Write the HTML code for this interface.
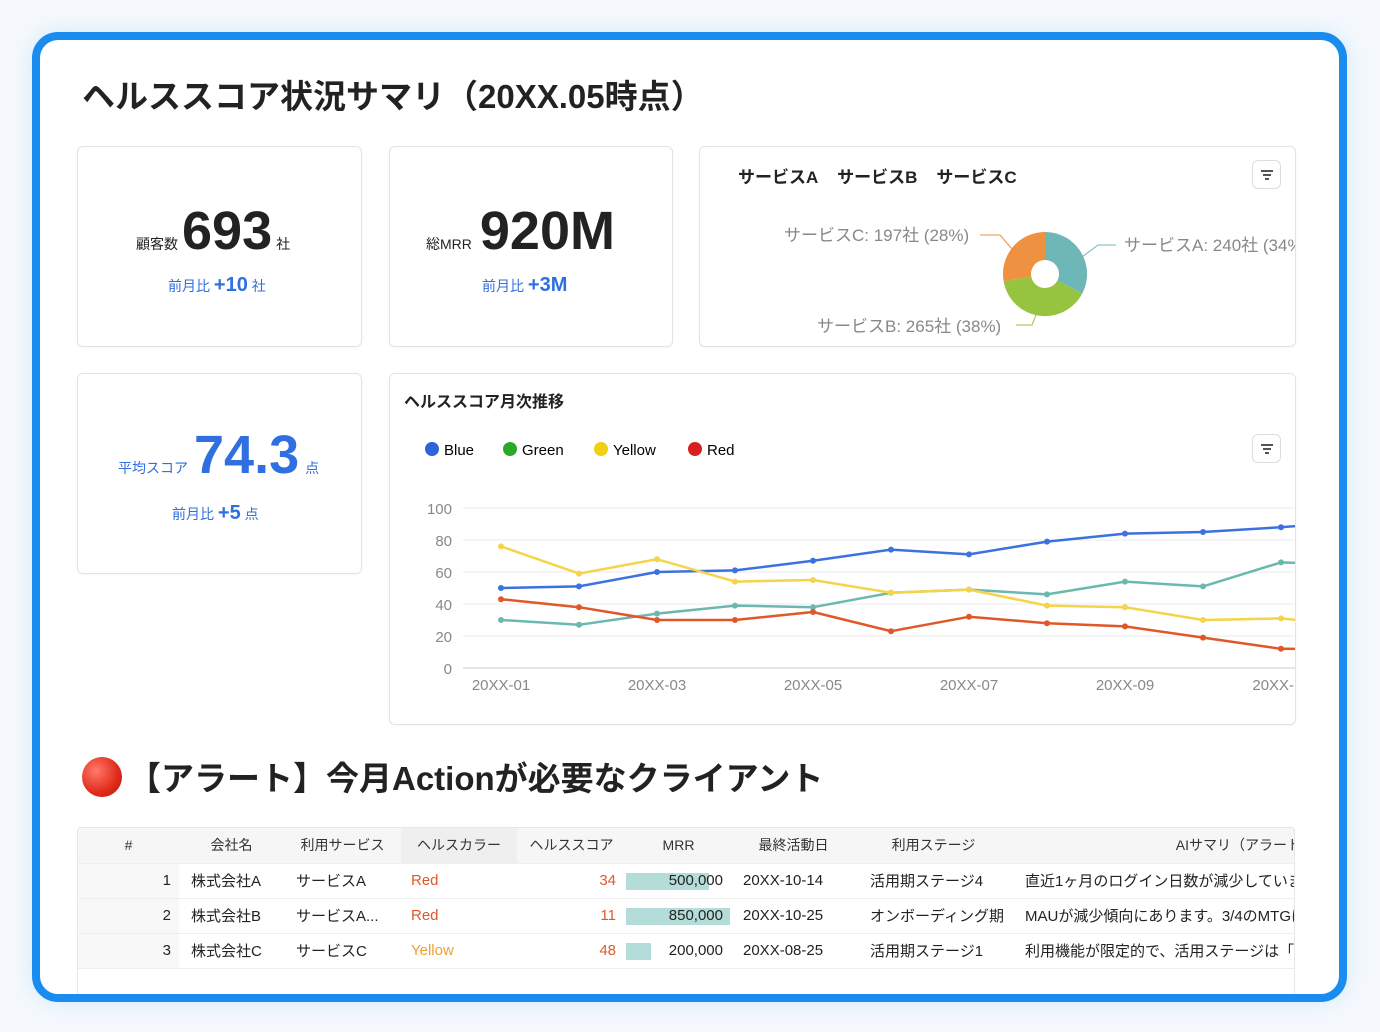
<!DOCTYPE html>
<html><head><meta charset="utf-8"><style>
*{box-sizing:border-box;margin:0;padding:0}
body{width:1380px;height:1032px;background:#f5f9fd;font-family:"Liberation Sans","Noto Sans CJK JP",sans-serif;position:relative;overflow:hidden;color:#222}
.frame{position:absolute;left:32px;top:32px;width:1315px;height:970px;border:8px solid #1a8cf0;border-radius:26px;background:#fff;overflow:hidden;box-shadow:0 0 24px rgba(26,140,240,.15)}
.card{position:absolute;border:1px solid #e3e3e3;border-radius:6px;background:#fff;box-shadow:0 1px 2px rgba(0,0,0,.04)}
.abs{position:absolute}
h1{position:absolute;left:82px;top:70px;font-size:33px;font-weight:bold;color:#222;white-space:nowrap}
.blue{color:#2f6fe0}
.fbtn{position:absolute;width:29px;height:29px;border:1px solid #ddd;border-radius:6px;background:#fff}
.fbtn i{position:absolute;height:1.5px;background:#555;left:50%;transform:translateX(-50%)}
table{border-collapse:collapse;font-size:15px}
td,th{height:35px;white-space:nowrap;border-bottom:1px solid #eee;overflow:hidden}
th{font-weight:normal;background:#f6f6f6;color:#333}
</style></head><body>
<div class="frame"></div>
<h1>ヘルススコア状況サマリ（20XX.05時点）</h1>

<div class="card" style="left:77px;top:146px;width:285px;height:201px"></div>
<div class="abs" style="left:136px;top:200px;font-size:14px;width:200px;white-space:nowrap"><span>顧客数</span><span style="font-size:54px;font-weight:bold;margin:0 4px">693</span><span>社</span></div>
<div class="abs blue" style="left:168px;top:274px;font-size:14px;white-space:nowrap">前月比 <b style="font-size:20px">+10</b> 社</div>

<div class="card" style="left:389px;top:146px;width:284px;height:201px"></div>
<div class="abs" style="left:426px;top:200px;font-size:14px;white-space:nowrap"><span>総MRR</span><span style="font-size:54px;font-weight:bold;margin-left:8px">920M</span></div>
<div class="abs blue" style="left:482px;top:274px;font-size:14px;white-space:nowrap">前月比 <b style="font-size:20px">+3M</b></div>

<div class="card" style="left:699px;top:146px;width:597px;height:201px;overflow:hidden">
<div class="abs" style="left:38px;top:16px;font-size:17px;font-weight:bold;white-space:nowrap">サービスA&nbsp;&nbsp;&nbsp;&nbsp;サービスB&nbsp;&nbsp;&nbsp;&nbsp;サービスC</div>
<div class="fbtn" style="left:552px;top:13px"><i style="top:9px;width:12px"></i><i style="top:13px;width:8px"></i><i style="top:17px;width:4px"></i></div>
<svg class="abs" style="left:0;top:0" width="597" height="201">
<g transform="translate(345,127)">
<path d="M0,-42 A42,42 0 0 1 37.2,19.6 L12.4,6.5 A14,14 0 0 0 0,-14Z" fill="#6db7b7"/>
<path d="M37.2,19.6 A42,42 0 0 1 -41.4,7.3 L-13.8,2.4 A14,14 0 0 0 12.4,6.5Z" fill="#96c43f"/>
<path d="M-41.4,7.3 A42,42 0 0 1 0,-42 L0,-14 A14,14 0 0 0 -13.8,2.4Z" fill="#ee9140"/>
</g>
<polyline points="280,88 300,88 312,102" fill="none" stroke="#ee9140"/>
<polyline points="378,113 398,98 416,98" fill="none" stroke="#6db7b7"/>
<polyline points="316,178 332,178 336,168" fill="none" stroke="#96c43f"/>
<g font-size="17" fill="#888">
<text x="84" y="94">サービスC: 197社 (28%)</text>
<text x="424" y="104">サービスA: 240社 (34%)</text>
<text x="117" y="185">サービスB: 265社 (38%)</text>
</g></svg>
</div>

<div class="card" style="left:77px;top:373px;width:285px;height:201px"></div>
<div class="abs blue" style="left:118px;top:424px;font-size:14px;white-space:nowrap"><span>平均スコア</span><span style="font-size:54px;font-weight:bold;margin:0 6px">74.3</span><span>点</span></div>
<div class="abs blue" style="left:172px;top:502px;font-size:14px;white-space:nowrap">前月比 <b style="font-size:20px">+5</b> 点</div>

<div class="card" style="left:389px;top:373px;width:907px;height:352px;overflow:hidden">
<div class="abs" style="left:14px;top:14px;font-size:16px;font-weight:bold">ヘルススコア月次推移</div>
<div class="fbtn" style="left:862px;top:60px"><i style="top:9px;width:12px"></i><i style="top:13px;width:8px"></i><i style="top:17px;width:4px"></i></div>
<svg class="abs" style="left:-389px;top:-373px" width="1296" height="725">
<g font-size="15">
<circle cx="431" cy="448" r="7" fill="#2f64d8"/><text x="443" y="454">Blue</text>
<circle cx="509" cy="448" r="7" fill="#2aa82a"/><text x="521" y="454">Green</text>
<circle cx="600" cy="448" r="7" fill="#f0d010"/><text x="612" y="454">Yellow</text>
<circle cx="694" cy="448" r="7" fill="#d82020"/><text x="706" y="454">Red</text>
</g>
<g stroke="#ebebeb"><line x1="462" x2="1296" y1="507" y2="507"/><line x1="462" x2="1296" y1="539" y2="539"/><line x1="462" x2="1296" y1="571" y2="571"/><line x1="462" x2="1296" y1="603" y2="603"/><line x1="462" x2="1296" y1="635" y2="635"/></g>
<line x1="462" x2="1296" y1="667" y2="667" stroke="#ccc"/>
<g font-size="15" fill="#888" text-anchor="end"><text x="451" y="513">100</text><text x="451" y="545">80</text><text x="451" y="577">60</text><text x="451" y="609">40</text><text x="451" y="641">20</text><text x="451" y="673">0</text></g>
<g font-size="15" fill="#888" text-anchor="middle"><text x="500" y="689">20XX-01</text><text x="656" y="689">20XX-03</text><text x="812" y="689">20XX-05</text><text x="968" y="689">20XX-07</text><text x="1124" y="689">20XX-09</text><text x="1280" y="689">20XX-11</text></g>
<g fill="none" stroke-width="2.5" stroke-linejoin="round">
<polyline stroke="#3c72e0" points="500,587 578,585.4 656,571 734,569.4 812,559.8 890,548.6 968,553.4 1046,540.6 1124,532.6 1202,531 1280,526.2 1358,520"/>
<polyline stroke="#6ab8ae" points="500,619 578,623.8 656,612.6 734,604.6 812,606.2 890,591.8 968,588.6 1046,593.4 1124,580.6 1202,585.4 1280,561.4 1358,564"/>
<polyline stroke="#f5d44a" points="500,545.4 578,572.6 656,558.2 734,580.6 812,579 890,591.8 968,588.6 1046,604.6 1124,606.2 1202,619 1280,617.4 1358,625"/>
<polyline stroke="#e0582a" points="500,598.2 578,606.2 656,619 734,619 812,611 890,630.2 968,615.8 1046,622.2 1124,625.4 1202,636.6 1280,647.8 1358,648"/>
</g>
<g fill="#3c72e0"><circle cx="500" cy="587" r="3"/><circle cx="578" cy="585.4" r="3"/><circle cx="656" cy="571" r="3"/><circle cx="734" cy="569.4" r="3"/><circle cx="812" cy="559.8" r="3"/><circle cx="890" cy="548.6" r="3"/><circle cx="968" cy="553.4" r="3"/><circle cx="1046" cy="540.6" r="3"/><circle cx="1124" cy="532.6" r="3"/><circle cx="1202" cy="531" r="3"/><circle cx="1280" cy="526.2" r="3"/></g>
<g fill="#6ab8ae"><circle cx="500" cy="619" r="3"/><circle cx="578" cy="623.8" r="3"/><circle cx="656" cy="612.6" r="3"/><circle cx="734" cy="604.6" r="3"/><circle cx="812" cy="606.2" r="3"/><circle cx="890" cy="591.8" r="3"/><circle cx="968" cy="588.6" r="3"/><circle cx="1046" cy="593.4" r="3"/><circle cx="1124" cy="580.6" r="3"/><circle cx="1202" cy="585.4" r="3"/><circle cx="1280" cy="561.4" r="3"/></g>
<g fill="#f5d44a"><circle cx="500" cy="545.4" r="3"/><circle cx="578" cy="572.6" r="3"/><circle cx="656" cy="558.2" r="3"/><circle cx="734" cy="580.6" r="3"/><circle cx="812" cy="579" r="3"/><circle cx="890" cy="591.8" r="3"/><circle cx="968" cy="588.6" r="3"/><circle cx="1046" cy="604.6" r="3"/><circle cx="1124" cy="606.2" r="3"/><circle cx="1202" cy="619" r="3"/><circle cx="1280" cy="617.4" r="3"/></g>
<g fill="#e0582a"><circle cx="500" cy="598.2" r="3"/><circle cx="578" cy="606.2" r="3"/><circle cx="656" cy="619" r="3"/><circle cx="734" cy="619" r="3"/><circle cx="812" cy="611" r="3"/><circle cx="890" cy="630.2" r="3"/><circle cx="968" cy="615.8" r="3"/><circle cx="1046" cy="622.2" r="3"/><circle cx="1124" cy="625.4" r="3"/><circle cx="1202" cy="636.6" r="3"/><circle cx="1280" cy="647.8" r="3"/></g>
</svg>
</div>

<div class="abs" style="left:82px;top:757px;width:40px;height:40px;border-radius:50%;background:radial-gradient(circle at 35% 35%,#ff7a6a,#e02a1a 60%,#b01a10)"></div>
<div class="abs" style="left:128px;top:752px;font-size:33px;font-weight:bold;white-space:nowrap">【アラート】今月Actionが必要なクライアント</div>

<div class="abs" style="left:77px;top:827px;width:1218px;height:167px;border:1px solid #e6e6e6;border-bottom:none;border-radius:4px 4px 0 0;overflow:hidden">
<table style="width:1223px;table-layout:fixed;font-size:15px">
<colgroup><col style="width:101px"><col style="width:105px"><col style="width:117px"><col style="width:116px"><col style="width:109px"><col style="width:105px"><col style="width:125px"><col style="width:155px"><col style="width:290px"></colgroup>
<tr><th style="text-align:center;font-size:14px">#</th><th style="font-size:14px">会社名</th><th style="font-size:14px">利用サービス</th><th style="background:#efefef;font-size:14px">ヘルスカラー</th><th style="font-size:14px">ヘルススコア</th><th style="font-size:14px">MRR</th><th style="font-size:14px">最終活動日</th><th style="font-size:14px">利用ステージ</th><th style="text-align:right;font-size:14px">AIサマリ（アラート</th></tr>
<tr><td style="text-align:right;padding-right:8px;background:#f8f8f8">1</td><td style="padding-left:12px">株式会社A</td><td style="padding-left:12px">サービスA</td><td style="padding-left:10px;color:#e0582a">Red</td><td style="text-align:right;padding-right:10px;color:#e0582a">34</td><td style="position:relative;text-align:right;padding-right:8px"><span class="abs" style="left:0;top:9px;width:83px;height:17px;background:#b4dcd8"></span><span style="position:relative">500,000</span></td><td style="padding-left:12px">20XX-10-14</td><td style="padding-left:14px">活用期ステージ4</td><td style="padding-left:14px">直近1ヶ月のログイン日数が減少しています</td></tr>
<tr><td style="text-align:right;padding-right:8px;background:#f8f8f8">2</td><td style="padding-left:12px">株式会社B</td><td style="padding-left:12px">サービスA...</td><td style="padding-left:10px;color:#e0582a">Red</td><td style="text-align:right;padding-right:10px;color:#e0582a">11</td><td style="position:relative;text-align:right;padding-right:8px"><span class="abs" style="left:0;top:9px;width:104px;height:17px;background:#b4dcd8"></span><span style="position:relative">850,000</span></td><td style="padding-left:12px">20XX-10-25</td><td style="padding-left:14px">オンボーディング期</td><td style="padding-left:14px">MAUが減少傾向にあります。3/4のMTGに</td></tr>
<tr><td style="text-align:right;padding-right:8px;background:#f8f8f8">3</td><td style="padding-left:12px">株式会社C</td><td style="padding-left:12px">サービスC</td><td style="padding-left:10px;color:#f0a030">Yellow</td><td style="text-align:right;padding-right:10px;color:#e0582a">48</td><td style="position:relative;text-align:right;padding-right:8px"><span class="abs" style="left:0;top:9px;width:25px;height:17px;background:#b4dcd8"></span><span style="position:relative">200,000</span></td><td style="padding-left:12px">20XX-08-25</td><td style="padding-left:14px">活用期ステージ1</td><td style="padding-left:14px">利用機能が限定的で、活用ステージは「1」</td></tr>
</table>
</div>
</body></html>
